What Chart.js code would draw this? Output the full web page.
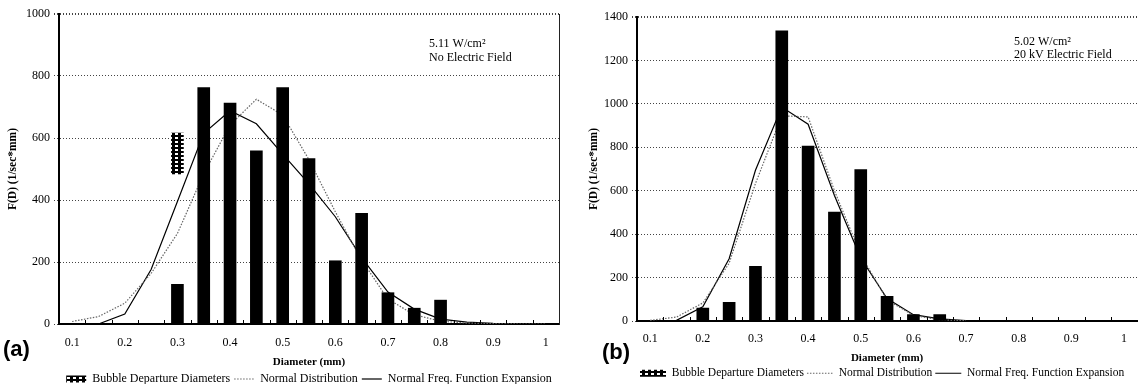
<!DOCTYPE html>
<html>
<head>
<meta charset="utf-8">
<script src="https://cdn.jsdelivr.net/npm/chart.js@4.4.0/dist/chart.umd.min.js"></script>
<style>
    body { margin: 0; background: #fff; }
    #wrap { position: relative; width: 1138px; height: 384px; overflow: hidden; background: #fff; }
    canvas { position: absolute; top: 0; }
</style>
</head>
<body>
<div id="wrap">
    <canvas id="chart-a" width="566" height="384" style="left:0px"></canvas>
    <canvas id="chart-b" width="566" height="384" style="left:572px"></canvas>
</div>
<script>
// diameter classes (mm)
var diameters = ["0.1", "0.15", "0.2", "0.25", "0.3", "0.35", "0.4", "0.45", "0.5", "0.55",
    "0.6", "0.65", "0.7", "0.75", "0.8", "0.85", "0.9", "0.95", "1"];

// (a) 5.11 W/cm2, no electric field
var bubblesA = [null, null, null, null, 128, 763, 713, 559, 763, 534, 204, 357, 101, 51, 77, null, null, null, null];
var markerA = [null, null, null, null, [484, 616], null, null, null, null, null, null, null, null, null, null, null, null, null, null];
var normalA = [8, 24, 67, 163, 292, 485, 642, 725, 674, 530, 362, 206, 80, 30, 9, 3, 1, 0, 0];
var expansionA = [null, 0, 32, 176, 395, 615, 688, 646, 548, 452, 346, 214, 103, 48, 16, 6, 2, 1, 0];

// (b) 5.02 W/cm2, 20 kV electric field
var bubblesB = [null, null, 60, 86, 252, 1336, 806, 502, 697, 114, 29, 29, null, null, null, null, null, null, null];
var normalB = [3, 18, 83, 266, 633, 945, 940, 600, 305, 96, 26, 5, 1, null, null, null, null, null, null];
var expansionB = [0, 3, 65, 287, 694, 985, 906, 578, 290, 103, 29, 10, 2, null, null, null, null, null, null];

Chart.defaults.font.family = "'Liberation Serif', 'Times New Roman', serif";
Chart.defaults.color = "#000";

function checker(ctx) {
    var c = document.createElement("canvas");
    c.width = 6;
    c.height = 4;
    var g = c.getContext("2d");
    g.fillStyle = "#000";
    g.fillRect(0, 0, 6, 4);
    g.fillStyle = "#fff";
    g.fillRect(1, 1, 3, 2);
    return ctx.createPattern(c, "repeat");
}

// panel tag, notes and the little inward ticks on the x axis
var panelText = {
    id: "panelText",
    afterDraw: function (chart, args, opts) {
        var ctx = chart.ctx;
        ctx.save();
        ctx.fillStyle = "#000";
        ctx.textBaseline = "middle";
        ctx.textAlign = "left";
        ctx.font = "bold 22px 'Liberation Sans'";
        ctx.fillText(opts.tag, opts.tagX, opts.tagY);
        ctx.font = "12px 'Liberation Serif'";
        for (var i = 0; i < opts.notes.length; i++) {
            ctx.fillText(opts.notes[i], opts.noteX, opts.noteY + i * opts.noteGap);
        }
        var x = chart.scales.x;
        var n = x.ticks.length;
        var w = (x.right - x.left) / n;
        ctx.strokeStyle = "#000";
        ctx.lineWidth = 1;
        ctx.beginPath();
        for (var k = 1; k < n; k++) {
            var px = Math.round(x.left + k * w) + 0.5;
            ctx.moveTo(px, x.top);
            ctx.lineTo(px, x.top - 4);
        }
        ctx.stroke();
        ctx.restore();
    }
};

function legendLabels(chart) {
    var items = Chart.defaults.plugins.legend.labels.generateLabels(chart);
    return items.filter(function (it) { return it.text; }).map(function (it) {
        var ds = chart.data.datasets[it.datasetIndex];
        if (ds.type === "bar") {
            it.fillStyle = checker(chart.ctx);
            it.pointStyle = "rect";
            it.lineWidth = 0;
        } else {
            it.pointStyle = "line";
            it.strokeStyle = ds.borderColor;
            it.lineWidth = 1.2;
            it.lineDash = ds.borderDash || [];
        }
        return it;
    });
}

function makeChart(id, s) {
    var ctx = document.getElementById(id).getContext("2d");
    var datasets = [{
        type: "bar",
        label: "Bubble Departure Diameters",
        data: s.bars,
        backgroundColor: "#000",
        borderWidth: 0,
        barThickness: 12,
        grouped: false,
        order: 0,
        yAxisID: "y"
    }];
    if (s.marker) {
        datasets.push({
            type: "bar",
            label: "",
            data: s.marker,
            backgroundColor: checker(ctx),
            borderWidth: 0,
            barThickness: 12,
            grouped: false,
            order: 0,
            yAxisID: "y"
        });
    }
    datasets.push({
        type: "line",
        label: "Normal Distribution",
        data: s.normal,
        borderColor: "#666",
        borderWidth: 1.2,
        borderDash: [1.5, 1.5],
        pointRadius: 0,
        tension: 0,
        fill: false,
        order: 1,
        yAxisID: "y"
    });
    datasets.push({
        type: "line",
        label: "Normal Freq. Function Expansion",
        data: s.expansion,
        borderColor: "#000",
        borderWidth: 1.2,
        pointRadius: 0,
        tension: 0,
        fill: false,
        order: 2,
        yAxisID: "y"
    });

    var scales = {
        x: {
            type: "category",
            offset: true,
            grid: { display: false, drawTicks: false },
            border: { display: true, color: "#000", width: 2 },
            ticks: {
                autoSkip: false,
                maxRotation: 0,
                padding: s.xPad,
                font: { size: 12 },
                callback: function (v, i) { return i % 2 === 0 ? this.getLabelForValue(v) : ""; }
            },
            title: {
                display: true,
                text: "Diameter (mm)",
                font: { size: 11, weight: "bold" },
                padding: { top: 0, bottom: 0 }
            },
            afterFit: function (scale) { scale.height = s.xHeight; }
        },
        y: {
            min: 0,
            max: s.yMax,
            ticks: {
                stepSize: 200,
                padding: 4,
                font: { size: 12 },
                callback: function (v) { return String(v); }
            },
            grid: {
                color: "#444",
                lineWidth: function (c) { return c.tick && c.tick.value === s.yMax ? 2 : 1; },
                drawTicks: true,
                tickLength: 5,
                tickColor: "#444",
                tickBorderDash: [1, 2]
            },
            border: { display: true, color: "#000", width: 2, dash: [1, 2] },
            title: {
                display: true,
                text: "F(D) (1/sec*mm)",
                font: { size: 11.5, weight: "bold" },
                padding: { top: s.yTitlePad, bottom: 0 }
            },
            afterFit: function (scale) { scale.width = s.yWidth; }
        }
    };
    if (s.rightBorder) {
        scales.y2 = {
            position: "right",
            min: 0,
            max: s.yMax,
            grid: { display: false, drawTicks: false },
            ticks: { display: false },
            border: { display: true, color: "#222", width: 1 },
            afterFit: function (scale) { scale.width = 0; }
        };
    }

    return new Chart(ctx, {
        data: { labels: diameters, datasets: datasets },
        options: {
            responsive: false,
            animation: false,
            devicePixelRatio: 1,
            layout: { padding: s.padding },
            scales: scales,
            plugins: {
                tooltip: { enabled: false },
                legend: {
                    position: "bottom",
                    align: s.legendAlign,
                    fullSize: false,
                    labels: {
                        usePointStyle: true,
                        pointStyleWidth: s.boxW,
                        boxHeight: 7,
                        padding: s.legendPad,
                        font: { size: s.legendFont },
                        color: "#000",
                        generateLabels: legendLabels
                    }
                },
                panelText: s.text
            }
        },
        plugins: [panelText]
    });
}

var chartA = makeChart("chart-a", {
    bars: bubblesA, marker: markerA, normal: normalA, expansion: expansionA,
    yMax: 1000, yWidth: 59, yTitlePad: 6, xHeight: 45, xPad: 12, rightBorder: true,
    padding: { top: 14, right: 7, bottom: -11, left: 0 },
    legendAlign: "center", legendPad: 4, legendFont: 12, boxW: 20,
    text: { tag: "(a)", tagX: 3, tagY: 350, notes: ["5.11 W/cm\u00b2", "No Electric Field"], noteX: 429, noteY: 44, noteGap: 14 }
});

var chartB = makeChart("chart-b", {
    bars: bubblesB, normal: normalB, expansion: expansionB,
    yMax: 1400, yWidth: 65, yTitlePad: 15, xHeight: 43.5, xPad: 11, rightBorder: false,
    padding: { top: 17, right: 0, bottom: -5, left: 0 },
    legendAlign: "start", legendPad: 3, legendFont: 11.5, boxW: 26,
    text: { tag: "(b)", tagX: 30, tagY: 353, notes: ["5.02 W/cm\u00b2", "20 kV Electric Field"], noteX: 442, noteY: 42, noteGap: 12.5 }
});
</script>
</body>
</html>
